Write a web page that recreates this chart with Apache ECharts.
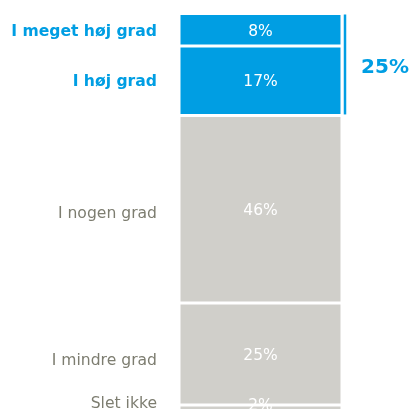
<!DOCTYPE html>
<html>
<head>
<meta charset="utf-8">
<script src="https://cdn.jsdelivr.net/npm/echarts@6/dist/echarts.min.js"></script>
<style>
  html, body { margin: 0; padding: 0; background: #fff; }
  #chart { width: 411px; height: 409px; }
</style>
</head>
<body>
<div id="chart"></div>
<script>
// svarkategorier og andele (%)
const categories = ['I meget høj grad', 'I høj grad', 'I nogen grad', 'I mindre grad', 'Slet ikke'];
const values = [8, 17, 46, 25, 2];
const highlighted = [true, true, false, false, false];
const barName = ['Andel'];

const BLUE = '#009ee3';
const GREY = '#d0cfca';
const FONT = 'DejaVu Sans';

// små justeringer af tekstplacering (px)
const nameShift = [2, 1, 5, 7, -3];
const valueShift = [2, 1, 2, 2, -3];

const chart = echarts.init(document.getElementById('chart'));

let series = [];
categories.forEach(function (name, i) {
  // selve søjlestykket med procent-etiket
  series.push({
    name: name,
    type: 'bar',
    stack: 'bar',
    barWidth: 163,
    barGap: '-100%',
    clip: false,
    data: [values[i]],
    itemStyle: {
      color: highlighted[i] ? BLUE : GREY,
      borderColor: '#fff',
      borderWidth: 1.5
    },
    label: {
      show: true,
      position: 'inside',
      formatter: '{c}%',
      color: '#fff',
      fontFamily: FONT,
      fontSize: 15.5,
      offset: [0, valueShift[i]]
    },
    silent: true
  });
  // usynlig kopi der bærer kategorinavnet til venstre
  series.push({
    name: name + ' (navn)',
    type: 'bar',
    stack: 'names',
    barWidth: 163,
    barGap: '-100%',
    data: [values[i]],
    itemStyle: { color: 'rgba(0,0,0,0)' },
    label: {
      show: true,
      position: 'left',
      distance: 22,
      formatter: name,
      color: highlighted[i] ? BLUE : '#7d7d70',
      fontWeight: highlighted[i] ? 'bold' : 'normal',
      fontFamily: FONT,
      fontSize: 15.6,
      offset: [0, nameShift[i]]
    },
    silent: true
  });
});

// klamme for de fremhævede kategorier
let topTotal = 0;
values.forEach(function (v, i) { if (highlighted[i]) topTotal += v; });

series.push({
  type: 'custom',
  silent: true,
  data: [[0, 0, topTotal]],
  encode: { x: 0, y: [1, 2] },
  renderItem: function (params, api) {
    const a = api.coord([api.value(0), api.value(1)]);
    const b = api.coord([api.value(0), api.value(2)]);
    const half = api.size([1, 0])[0] / 2;
    const x = a[0] + half + 3;
    return {
      type: 'group',
      children: [
        {
          type: 'line',
          shape: { x1: x, y1: a[1] + 1, x2: x, y2: b[1] - 1 },
          style: { stroke: BLUE, lineWidth: 2.5 }
        },
        {
          type: 'text',
          style: {
            text: api.value(2) + '%',
            x: x + 40,
            y: (a[1] + b[1]) / 2 + 3,
            align: 'center',
            verticalAlign: 'middle',
            fill: BLUE,
            font: 'bold 20px "' + FONT + '"'
          }
        }
      ]
    };
  }
});

const option = {
  animation: false,
  grid: { left: 179, right: 69, top: 13.5, bottom: 0 },
  xAxis: {
    type: 'category',
    data: barName,
    show: false
  },
  yAxis: {
    type: 'value',
    min: 0,
    max: 97,
    inverse: true,
    show: false
  },
  series: series
};

chart.setOption(option);
</script>
</body>
</html>
